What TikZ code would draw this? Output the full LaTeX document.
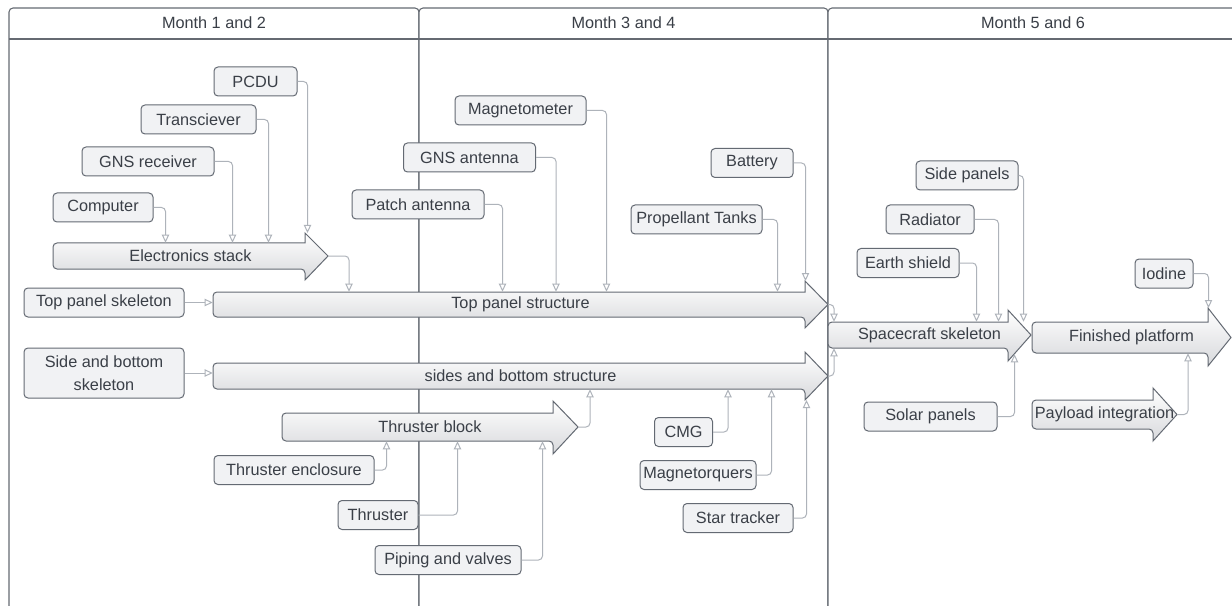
\documentclass[tikz,border=0pt]{standalone}
\usepackage{fontspec}
\setmainfont{Liberation Sans}
\usetikzlibrary{arrows.meta,calc}

\definecolor{ink}{HTML}{3A3F47}
\definecolor{frame}{HTML}{656A72}
\definecolor{boxfill}{HTML}{F1F2F4}
\definecolor{boxline}{HTML}{646A73}
\definecolor{wire}{HTML}{AEB3BA}
\definecolor{shadebot}{HTML}{D8D9DC}

\tikzset{
  txt/.style={text=ink, font=\fontsize{12.2pt}{17pt}\selectfont},
  lane/.style={draw=frame, line width=0.8pt, rounded corners=3pt, fill=white},
  laneline/.style={draw=frame, line width=0.8pt},
  lanetitle/.style={txt, inner sep=0pt},
  part/.style={txt, draw=boxline, fill=boxfill, line width=0.75pt,
    rounded corners=3pt, minimum height=29*0.75pt, inner sep=2pt},
  bw/.style={minimum width=#1*0.75pt},
  arrowshape/.style={draw=boxline, line width=0.75pt, top color=white,
    bottom color=shadebot},
  arrowlabel/.style={txt, inner sep=0pt},
  conn/.style={draw=wire, line width=0.75pt, rounded corners=3pt,
    -{Triangle[open,length=6pt,width=5.5pt]}},
}

% block arrow: name, tail x, tip x, shaft top, shaft bottom,
% head start x, head top, head bottom, label
\newcommand{\flowarrow}[9]{%
  \path[arrowshape] (#6,#4) [rounded corners=3pt] -- (#2,#4) -- (#2,#5)
    -- (#6,#5) [sharp corners] -- (#6,#8) -- (#3,{(#4+#5)/2}) -- (#6,#7) -- cycle;
  \node[arrowlabel, minimum width={(#3-#2)*0.75pt},
    minimum height={(#5-#4)*0.75pt}] (#1) at ({(#2+#3)/2},{(#4+#5)/2}) {#9};
  \coordinate (#1-tip) at (#3,{(#4+#5)/2});
  \coordinate (#1-ht) at (#6,#7);
  \coordinate (#1-hb) at (#6,#8);
}

\begin{document}
\begin{tikzpicture}[x=0.75pt,y=-0.75pt]
\useasboundingbox (0,0) rectangle (1232,606);
\clip (0,0) rectangle (1232,606);

% swimlanes
\path[lane] (9,640) |- (419,8) -- (419,640);
\path[lane] (419,640) |- (828,8) -- (828,640);
\path[lane] (828,640) |- (1240,8) -- (1240,640);
\draw[laneline] (9,39) -- (1240,39);
\node[lanetitle] (m12) at (214,23) {Month 1 and 2};
\node[lanetitle] (m34) at (623.5,23) {Month 3 and 4};
\node[lanetitle] (m56) at (1033,23) {Month 5 and 6};

% block arrows
\flowarrow{es}{53}{328}{243}{269}{305}{233}{280}{Electronics stack}
\flowarrow{tps}{213}{828}{292}{317}{805}{281}{328}{Top panel structure}
\flowarrow{sbs}{213}{828}{363}{389}{805}{352}{400}{sides and bottom structure}
\flowarrow{tb}{282}{578}{413}{441}{553}{401}{454}{Thruster block}
\flowarrow{sks}{828}{1031}{322}{348}{1008}{310}{361}{Spacecraft skeleton}
\flowarrow{fp}{1032}{1231}{322}{353}{1208}{308}{366}{Finished platform}
\flowarrow{pi}{1032}{1177}{400}{429}{1153}{388}{441}{Payload integration}

% parts
\node[part, bw=83]  (pcdu)  at (255.5,81.5)  {PCDU};
\node[part, bw=115] (trans) at (198.5,119.5) {Transciever};
\node[part, bw=132] (gnsr)  at (148,161.5)   {GNS receiver};
\node[part, bw=100] (comp)  at (103,207.5)   {Computer};
\node[part, bw=160] (tpsk)  at (104,302.5)   {Top panel skeleton};
\node[part, bw=160, minimum height=50*0.75pt, align=center] (sbsk) at (104,373)
  {Side and bottom\\skeleton};
\node[part, bw=160] (thenc) at (294,470)     {Thruster enclosure};
\node[part, bw=80]  (thr)   at (378,515)     {Thruster};
\node[part, bw=146] (pip)   at (448,560)     {Piping and valves};
\node[part, bw=131] (mag)   at (520.5,110.5) {Magnetometer};
\node[part, bw=132] (gnsa)  at (469.5,157.5) {GNS antenna};
\node[part, bw=132] (patch) at (418,204.5)   {Patch antenna};
\node[part, bw=82]  (batt)  at (752,163)     {Battery};
\node[part, bw=131] (prop)  at (696.5,219.5) {Propellant Tanks};
\node[part, bw=58]  (cmg)   at (683.5,432)   {CMG};
\node[part, bw=116] (mtq)   at (698,475)     {Magnetorquers};
\node[part, bw=110] (star)  at (738,518)     {Star tracker};
\node[part, bw=102] (sidep) at (967,175.5)   {Side panels};
\node[part, bw=88]  (rad)   at (930,219.5)   {Radiator};
\node[part, bw=102] (earth) at (908,263)     {Earth shield};
\node[part, bw=58]  (iod)   at (1164,273.5)  {Iodine};
\node[part, bw=133] (solar) at (930.5,416.5) {Solar panels};

% connectors
\draw[conn] (pcdu.east) -| ($(pcdu.east |- es-ht)+(10,0)$);
\draw[conn] (trans.east) -| ($(trans.east |- es.north)+(12,0)$);
\draw[conn] (gnsr.east) -| ($(gnsr.east |- es.north)+(18,0)$);
\draw[conn] (comp.east) -| ($(comp.east |- es.north)+(12,0)$);
\draw[conn] (es-tip) -| ($(es-tip |- tps.north)+(21,0)$);
\draw[conn] (tpsk.east) -- (tpsk.east -| tps.west);
\draw[conn] (patch.east) -| ($(patch.east |- tps.north)+(18,0)$);
\draw[conn] (gnsa.east) -| ($(gnsa.east |- tps.north)+(20,0)$);
\draw[conn] (mag.east) -| ($(mag.east |- tps.north)+(20,0)$);
\draw[conn] (prop.east) -| ($(prop.east |- tps.north)+(15,0)$);
\draw[conn] (batt.east) -| ($(batt.east |- tps-ht)+(12,0)$);
\draw[conn] (sbsk.east) -- (sbsk.east -| sbs.west);
\draw[conn] (tb-tip) -| ($(tb-tip |- sbs.south)+(12,0)$);
\draw[conn] (thenc.east) -| ($(thenc.east |- tb.south)+(12,0)$);
\draw[conn] (thr.east) -| ($(thr.east |- tb.south)+(39,0)$);
\draw[conn] (pip.east) -| ($(pip.east |- tb.south)+(21,0)$);
\draw[conn] (cmg.east) -| ($(cmg.east |- sbs.south)+(15,0)$);
\draw[conn] (mtq.east) -| ($(mtq.east |- sbs.south)+(15,0)$);
\draw[conn] (star.east) -| ($(star.east |- sbs-hb)+(13,0)$);
\draw[conn] (tps-tip) -| ($(tps-tip |- sks.north)+(6,0)$);
\draw[conn] (sbs-tip) -| ($(sbs-tip |- sks.south)+(6,0)$);
\draw[conn] (earth.east) -| ($(earth.east |- sks.north)+(17,0)$);
\draw[conn] (rad.east) -| ($(rad.east |- sks.north)+(24,0)$);
\draw[conn] (sidep.east) -| ($(sidep.east |- sks.north)+(5,0)$);
\draw[conn] (solar.east) -| ($(solar.east |- sks.south)+(17,6)$);
\draw[conn] (iod.east) -| ($(iod.east |- fp-ht)+(15,0)$);
\draw[conn] (pi-tip) -| ($(pi-tip |- fp.south)+(11,0)$);
\end{tikzpicture}
\end{document}
